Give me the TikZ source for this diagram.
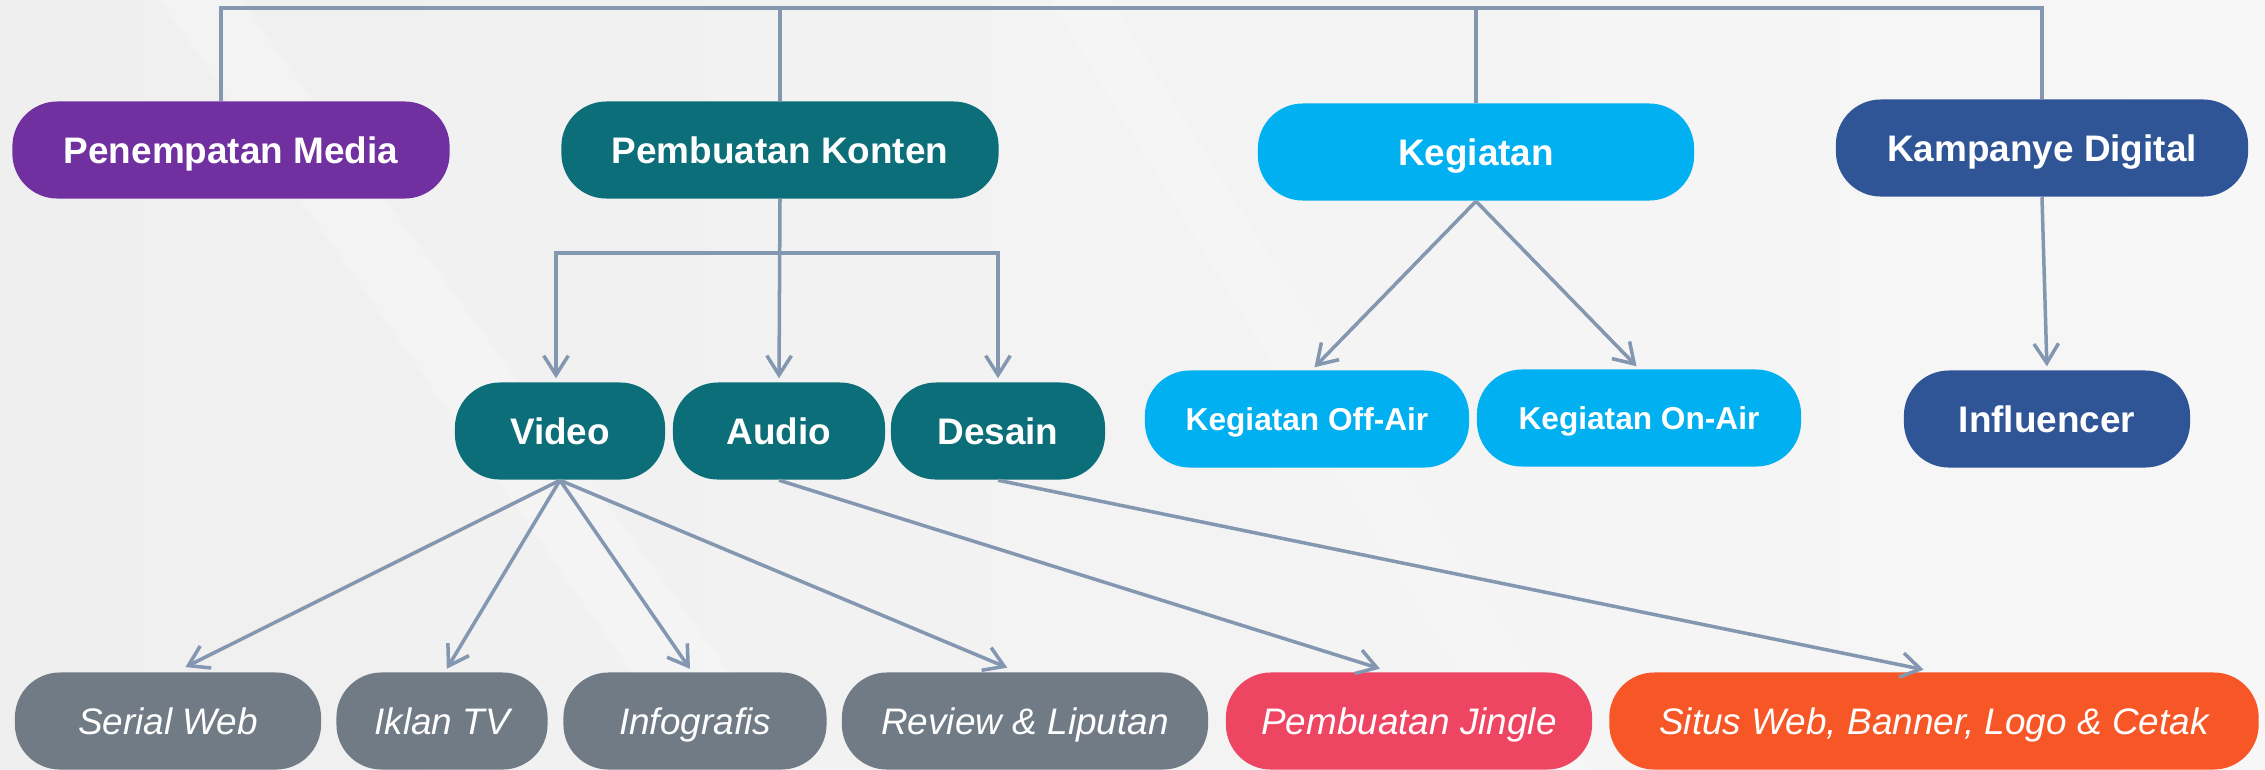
\documentclass[tikz,border=0pt]{standalone}
\usepackage{fontspec}
\setmainfont{Liberation Sans}
\usetikzlibrary{arrows.meta,calc}
\definecolor{bgL}{HTML}{EFEFEF}
\definecolor{bgR}{HTML}{F7F7F7}
\definecolor{cPurple}{HTML}{7030A0}
\definecolor{cTeal}{HTML}{0B6E78}
\definecolor{cSky}{HTML}{00B0F0}
\definecolor{cNavy}{HTML}{2F5597}
\definecolor{cGray}{HTML}{707B86}
\definecolor{cPink}{HTML}{EE4563}
\definecolor{cOrange}{HTML}{F75626}
\definecolor{cLine}{HTML}{8497B0}
\tikzset{
  pill/.style={rounded corners=0.45cm, minimum height=0.97cm, inner sep=0pt,
    text height=7.5pt, text depth=0pt,
    text=white, font=\fontsize{10.5}{12}\selectfont\bfseries},
  pillsmall/.style={pill, text height=6.4pt, font=\fontsize{9}{11}\selectfont\bfseries},
  pillit/.style={pill, font=\fontsize{10.5}{12}\selectfont\itshape},
  conn/.style={draw=cLine, line width=1pt},
  arr/.style={conn, -{Straight Barb[length=5.5pt,width=7pt,line width=1pt]}, shorten >=1pt},
}
\begin{document}
\begin{tikzpicture}[x=0.01cm,y=-0.01cm]
\useasboundingbox (0,0) rectangle (2265,769);
\fill[left color=bgL, right color=bgR] (0,0) rectangle (2265,769);
\fill[white, opacity=0.25] (160,0) -- (240,0) -- (800,769) -- (700,769) -- cycle;
\fill[white, opacity=0.18] (1050,0) -- (1110,0) -- (1590,769) -- (1520,769) -- cycle;

% top level
\node[pill, fill=cPurple, minimum width=4.37cm] (pm) at (231,150) {Penempatan Media};
\node[pill, fill=cTeal, minimum width=4.37cm] (pk) at (780,150) {Pembuatan Konten};
\node[pill, fill=cSky, minimum width=4.36cm] (kg) at (1476,152) {Kegiatan};
\node[pill, fill=cNavy, minimum width=4.12cm] (kd) at (2042,148) {Kampanye Digital};

% middle level
\node[pill, fill=cTeal, minimum width=2.10cm] (vid) at (560,431) {Video};
\node[pill, fill=cTeal, minimum width=2.12cm] (aud) at (779,431) {Audio};
\node[pill, fill=cTeal, minimum width=2.14cm] (des) at (998,431) {Desain};
\node[pillsmall, fill=cSky, minimum width=3.24cm] (off) at (1307,419) {Kegiatan Off-Air};
\node[pillsmall, fill=cSky, minimum width=3.24cm] (on) at (1639,418) {Kegiatan On-Air};
\node[pill, fill=cNavy, minimum width=2.86cm] (inf) at (2047,419) {Influencer};

% bottom level
\node[pillit, fill=cGray, minimum width=3.06cm] (sw) at (168,721) {Serial Web};
\node[pillit, fill=cGray, minimum width=2.11cm] (tv) at (442,721) {Iklan TV};
\node[pillit, fill=cGray, minimum width=2.63cm] (info) at (695,721) {Infografis};
\node[pillit, fill=cGray, minimum width=3.66cm] (rev) at (1025,721) {Review \& Liputan};
\node[pillit, fill=cPink, minimum width=3.66cm] (jing) at (1409,721) {Pembuatan Jingle};
\node[pillit, fill=cOrange, minimum width=6.49cm] (situs) at (1934,721) {Situs Web, Banner, Logo \& Cetak};

% top bar
\coordinate (bar) at (0,8);
\draw[conn] ($(pm.north)+(-10,0)$) |- (bar -| kd.north) -- (kd.north);
\draw[conn] (pk.north) -- (pk.north |- bar);
\draw[conn] (kg.north) -- (kg.north |- bar);

% Pembuatan Konten bracket
\coordinate (br) at (0,253);
\draw[arr] (pk.south) -- (aud.north);
\draw[arr] (pk.south |- br) -| ($(vid.north)+(-4,0)$);
\draw[arr] (pk.south |- br) -| (des.north);

% Kegiatan
\draw[arr] (kg.south) -- ($(off.north)+(5,0)$);
\draw[arr] (kg.south) -- (on.north);
% Kampanye
\draw[arr] (kd.south) -- (inf.north);

% Video children
\draw[arr, shorten >=3pt] (vid.south) -- ($(sw.north)+(8,0)$);
\draw[arr, shorten >=1pt] (vid.south) -- ($(tv.north)+(3,0)$);
\draw[arr, shorten >=1pt] (vid.south) -- ($(info.north)+(-3,0)$);
\draw[arr, shorten >=3pt] (vid.south) -- ($(rev.north)+(-8,0)$);
% Audio, Desain
\draw[arr, shorten >=3pt] (aud.south) -- ($(jing.north)+(-19,0)$);
\draw[arr, shorten >=3pt] (des.south) -- (situs.north);
\end{tikzpicture}
\end{document}
